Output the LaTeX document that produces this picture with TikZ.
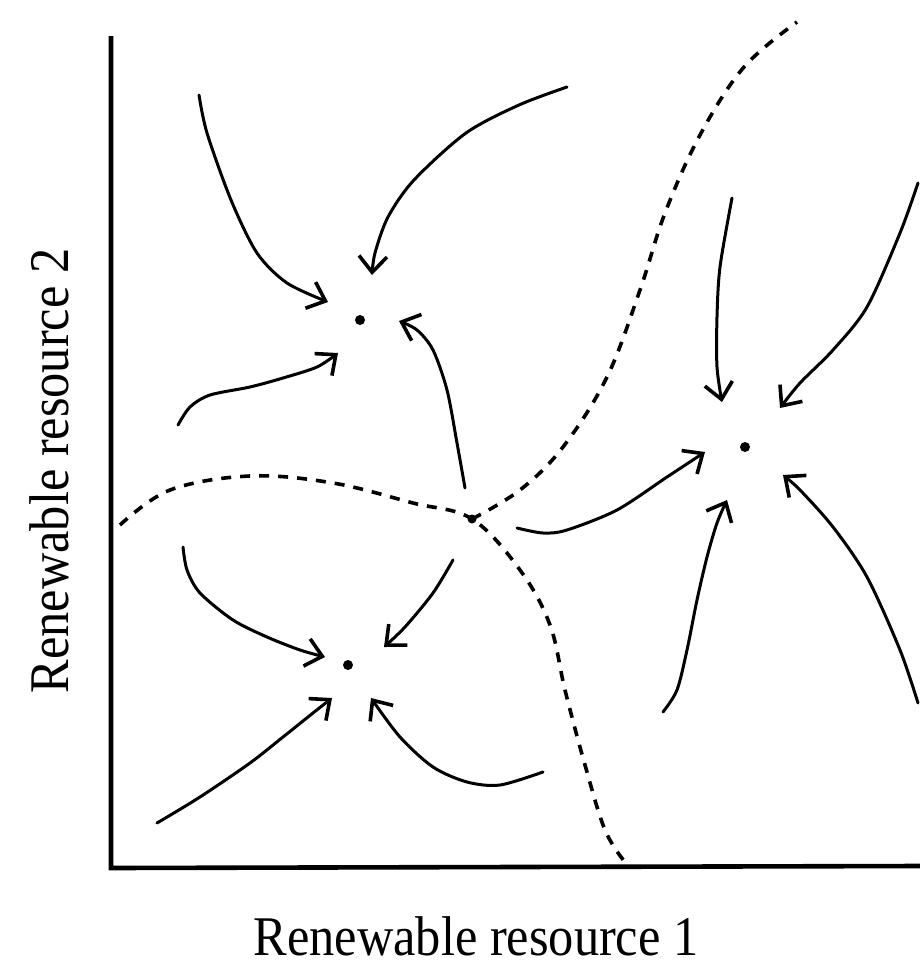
\documentclass[tikz,border=0pt]{standalone}
\usepackage{fontspec}
\setmainfont{Liberation Serif}
\usetikzlibrary{arrows.meta}
\tikzset{
  flow/.style={line width=3pt, line cap=round, -{Straight Barb[length=16pt,width=28pt,line width=3.6pt]}},
  sep/.style={line width=3.6pt, dash pattern=on 10pt off 9pt},
  axisline/.style={line width=4.6pt},
  eq/.style={circle, fill=black, inner sep=0pt, minimum size=10pt},
  lbl/.style={font=\fontsize{56}{60}\selectfont, inner sep=0pt}
}
\begin{document}
\begin{tikzpicture}[x=1pt,y=-1pt]
\useasboundingbox (0,0) rectangle (920,967);
% axes
\coordinate (top) at (111,36);
\coordinate (org) at (111,868);
\coordinate (right) at (920,866);
\draw[axisline] (top) -- (org) -- (right);
% labels
\node[lbl, anchor=base] (xl) at (476,955) {\scalebox{0.9}[1]{Renewable resource 1}};
\node[lbl, anchor=base, rotate=90] (yl) at (68,471) {\scalebox{0.9}[1]{Renewable resource 2}};
% equilibria
\node[eq] (A) at (360,320) {};
\node[eq] (B) at (745,447) {};
\node[eq] (C) at (348,665) {};
\node[eq, minimum size=9pt] (S) at (472,519) {};
% separatrices
\draw[sep] plot[smooth, tension=0.6] coordinates {(120,525) (170,490) (250,476) (333,483) (413,503) (S) (520,570) (550,625) (565,690) (585,765) (605,830) (625,862)};
\draw[sep] plot[smooth, tension=0.6] coordinates {(S) (520,490) (563,447) (607,377) (640,290) (665,213) (700,135) (744,67) (797,22)};
% trajectories towards A
\draw[flow] plot[smooth] coordinates {(199,95) (207,133) (231,200) (257,253) (287,283) (328,302)};
\draw[flow] plot[smooth] coordinates {(567,87) (519,105) (466,133) (414,180) (388,217) (375,253) (372,275)};
\draw[flow] plot[smooth] coordinates {(178,425) (190,407) (210,395) (250,387) (283,378) (317,367) (338,353)};
\draw[flow] plot[smooth] coordinates {(465,488) (457,443) (447,390) (433,350) (417,330) (399,321)};
% trajectories towards C
\draw[flow] plot[smooth] coordinates {(453,560) (433,593) (405,627) (384,647)};
\draw[flow] plot[smooth] coordinates {(183,547) (187,570) (200,593) (233,620) (267,637) (300,650) (325,657)};
\draw[flow] plot[smooth] coordinates {(157,823) (200,797) (250,763) (283,737) (313,713) (332,698)};
\draw[flow] plot[smooth] coordinates {(543,772) (500,785) (467,782) (433,767) (400,737) (371,698)};
% trajectories towards B
\draw[flow] plot[smooth] coordinates {(517,528) (543,533) (567,530) (617,510) (667,477) (705,452)};
\draw[flow] plot[smooth] coordinates {(732,198) (720,267) (717,317) (717,367) (722,402)};
\draw[flow] plot[smooth] coordinates {(918,183) (900,233) (867,307) (833,350) (800,383) (780,408)};
\draw[flow] plot[smooth] coordinates {(918,703) (900,650) (867,577) (833,527) (800,490) (783,475)};
\draw[flow] plot[smooth] coordinates {(663,712) (677,690) (687,650) (697,600) (707,557) (717,523) (727,500)};
\end{tikzpicture}
\end{document}
